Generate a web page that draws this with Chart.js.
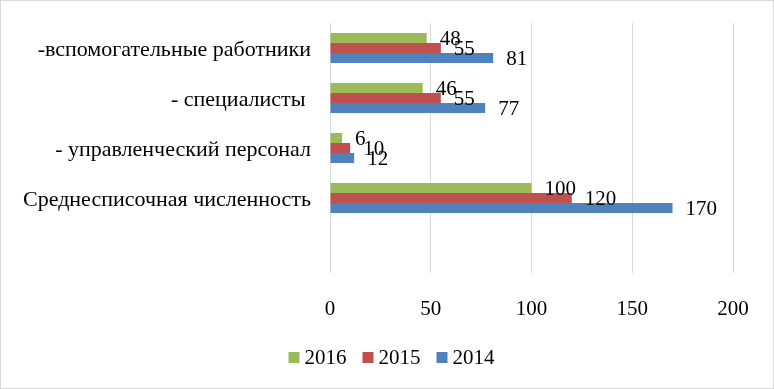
<!DOCTYPE html>
<html>
<head>
<meta charset="utf-8">
<script src="https://cdn.jsdelivr.net/npm/chart.js@4"></script>
<style>
    html, body { margin: 0; padding: 0; background: #fff; }
    #box {
        position: absolute; left: 0; top: 0;
        width: 774px; height: 389px;
        box-sizing: border-box;
        border: 1px solid #d9d9d9;
        background: #fff;
    }
</style>
</head>
<body>
<div id="box"><canvas id="staffChart" width="772" height="387"></canvas></div>
<script>
        // категории сверху вниз, последняя - пустая строка
        const categories = ['-вспомогательные работники', '- специалисты ', '- управленческий персонал', 'Среднесписочная численность', ''];
        const years = ['2016', '2015', '2014'];
        const values2016 = [48, 46, 6, 100, null];
        const values2015 = [55, 55, 10, 120, null];
        const values2014 = [81, 77, 12, 170, null];
        const xTicks = [0, 50, 100, 150, 200];

        const fontFamily = '"Liberation Serif", "Times New Roman", serif';

        // подписи значений справа от столбиков
        const valueLabels = {
            id: 'valueLabels',
            afterDatasetsDraw(chart) {
                const ctx = chart.ctx;
                ctx.save();
                ctx.font = '21px ' + fontFamily;
                ctx.fillStyle = '#000';
                ctx.textAlign = 'left';
                ctx.textBaseline = 'middle';
                chart.data.datasets.forEach((ds, i) => {
                    const meta = chart.getDatasetMeta(i);
                    meta.data.forEach((bar, j) => {
                        const v = ds.data[j];
                        if (v === null || v === undefined) return;
                        ctx.fillText(String(v), bar.x + 13, bar.y + 1);
                    });
                });
                ctx.restore();
            }
        };

        // легенда внизу: квадратик и подпись рядом, как в Excel
        const bottomLegend = {
            id: 'bottomLegend',
            afterDraw(chart) {
                const ctx = chart.ctx;
                const box = 11, gap = 5, itemGap = 16;
                ctx.save();
                ctx.font = '21px ' + fontFamily;
                ctx.textAlign = 'left';
                ctx.textBaseline = 'middle';
                const items = chart.data.datasets.map(ds => ({
                    text: ds.label,
                    color: ds.backgroundColor,
                    w: ctx.measureText(ds.label).width
                }));
                let total = 0;
                items.forEach((it, i) => {
                    total += box + gap + it.w + (i > 0 ? itemGap : 0);
                });
                let x = 390.5 - total / 2;
                const y = 356.5;
                items.forEach(it => {
                    ctx.fillStyle = it.color;
                    ctx.fillRect(x, y - 5.5, box, box);
                    ctx.fillStyle = '#000';
                    ctx.fillText(it.text, x + box + gap, y + 1);
                    x += box + gap + it.w + itemGap;
                });
                ctx.restore();
            }
        };

        const staffCtx = document.getElementById('staffChart').getContext('2d');

        const staffChart = new Chart(staffCtx, {
            type: 'bar',
            data: {
                labels: categories,
                datasets: [{
                    label: years[0],
                    data: values2016,
                    backgroundColor: '#9BBB59'
                }, {
                    label: years[1],
                    data: values2015,
                    backgroundColor: '#C0504D'
                }, {
                    label: years[2],
                    data: values2014,
                    backgroundColor: '#4F81BD'
                }]
            },
            options: {
                indexAxis: 'y',
                responsive: false,
                animation: false,
                datasets: {
                    bar: {
                        categoryPercentage: 0.6,
                        barPercentage: 1.0
                    }
                },
                layout: {
                    padding: { top: 22, right: 40, bottom: 51, left: 0 }
                },
                scales: {
                    x: {
                        min: 0,
                        max: 200,
                        afterBuildTicks: scale => {
                            scale.ticks = xTicks.map(v => ({ value: v }));
                        },
                        afterFit: scale => { scale.height = 64; },
                        grid: {
                            color: '#d9d9d9',
                            drawTicks: false
                        },
                        border: { display: false },
                        ticks: {
                            padding: 24,
                            color: '#000',
                            font: { family: fontFamily, size: 21 }
                        }
                    },
                    y: {
                        afterFit: scale => { scale.width = 329; },
                        grid: { display: false, drawTicks: true, tickLength: 19 },
                        border: { display: false },
                        ticks: {
                            padding: 0,
                            labelOffset: 2,
                            color: '#000',
                            font: { family: fontFamily, size: 22 }
                        }
                    }
                },
                plugins: {
                    legend: { display: false },
                    tooltip: { enabled: false }
                }
            },
            plugins: [valueLabels, bottomLegend]
        });
</script>
</body>
</html>
